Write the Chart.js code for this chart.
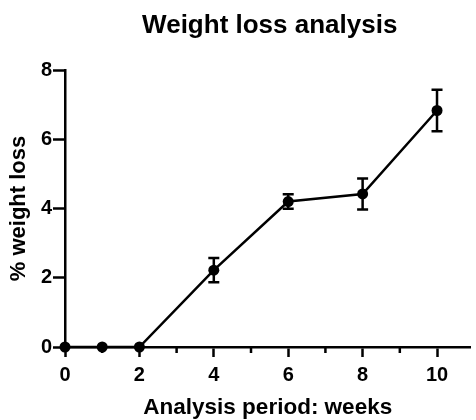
<!DOCTYPE html>
<html>
<head>
<meta charset="utf-8">
<script src="https://cdn.jsdelivr.net/npm/chart.js@4"></script>
<style>
  html, body { margin: 0; padding: 0; background: #fff; }
  #wrap { width: 476px; height: 420px; }
</style>
</head>
<body>
<div id="wrap"><canvas id="chart" width="476" height="420"></canvas></div>
<script>
// Data
const weeks = [0, 1, 2, 4, 6, 8, 10];
const meanLoss = [0, 0, 0, 2.22, 4.2, 4.42, 6.83];
const errLoss = [0, 0, 0, 0.35, 0.21, 0.45, 0.6];
const xTicks = [0, 2, 4, 6, 8, 10];
const xMinorTicks = [1, 3, 5, 7, 9];
const yTicks = [0, 2, 4, 6, 8];

const font = "'Liberation Sans', Arial, sans-serif";

// Vertical error bars with caps
const errorBars = {
  id: 'errorBars',
  afterDatasetsDraw(chart) {
    const { ctx, scales: { x, y } } = chart;
    ctx.save();
    ctx.strokeStyle = '#000';
    ctx.lineWidth = 2.5;
    weeks.forEach((w, i) => {
      if (!errLoss[i]) return;
      const px = x.getPixelForValue(w);
      const top = y.getPixelForValue(meanLoss[i] + errLoss[i]);
      const bot = y.getPixelForValue(meanLoss[i] - errLoss[i]);
      ctx.beginPath();
      ctx.moveTo(px, top); ctx.lineTo(px, bot);
      ctx.moveTo(px - 5.5, top); ctx.lineTo(px + 5.5, top);
      ctx.moveTo(px - 5.5, bot); ctx.lineTo(px + 5.5, bot);
      ctx.stroke();
    });
    ctx.restore();
  },
};

// Short minor ticks on the x axis at odd weeks
const minorTicks = {
  id: 'minorTicks',
  afterDraw(chart) {
    const { ctx, scales: { x } } = chart;
    ctx.save();
    ctx.strokeStyle = '#000';
    ctx.lineWidth = 2.5;
    xMinorTicks.forEach((v) => {
      const px = x.getPixelForValue(v);
      ctx.beginPath();
      ctx.moveTo(px, x.top);
      ctx.lineTo(px, x.top + 6);
      ctx.stroke();
    });
    ctx.restore();
  },
};

// Title centred over the plot area
const plotTitle = {
  id: 'plotTitle',
  afterDraw(chart) {
    const { ctx, chartArea } = chart;
    ctx.save();
    ctx.fillStyle = '#000';
    ctx.font = 'bold 26px ' + font;
    ctx.textAlign = 'center';
    ctx.textBaseline = 'alphabetic';
    ctx.fillText('Weight loss analysis', (chartArea.left + chartArea.right) / 2 + 2, 33);
    ctx.restore();
  },
};

new Chart(document.getElementById('chart'), {
  type: 'line',
  data: {
    datasets: [
      {
        data: weeks.map((w, i) => ({ x: w, y: meanLoss[i] })),
        borderColor: '#000',
        backgroundColor: '#000',
        borderWidth: 2.5,
        pointRadius: 5.5,
        pointBackgroundColor: '#000',
        pointBorderWidth: 0,
        tension: 0,
        clip: false,
      },
    ],
  },
  options: {
    responsive: false,
    animation: false,
    layout: { padding: { top: 70, right: 0, left: 0, bottom: 0 } },
    scales: {
      x: {
        type: 'linear',
        min: 0,
        max: 10.9,
        afterBuildTicks: (scale) => { scale.ticks = xTicks.map((v) => ({ value: v })); },
        afterFit: (scale) => { scale.height = 73; },
        grid: { drawOnChartArea: false, drawTicks: true, tickLength: 10, tickWidth: 2.5, tickColor: '#000' },
        border: { display: true, color: '#000', width: 2.5 },
        ticks: { color: '#000', padding: 6, font: { family: font, size: 20, weight: 'bold' } },
        title: {
          display: true,
          text: 'Analysis period: weeks',
          color: '#000',
          padding: { top: 0, bottom: -1 },
          font: { family: font, size: 22.5, weight: 'bold' },
        },
      },
      y: {
        type: 'linear',
        min: 0,
        max: 8,
        afterBuildTicks: (scale) => { scale.ticks = yTicks.map((v) => ({ value: v })); },
        afterFit: (scale) => { scale.width = 65; },
        grid: { drawOnChartArea: false, drawTicks: true, tickLength: 12, tickWidth: 2.5, tickColor: '#000' },
        border: { display: true, color: '#000', width: 2.5 },
        ticks: { color: '#000', padding: 1, font: { family: font, size: 20, weight: 'bold' } },
        title: {
          display: true,
          text: '% weight loss',
          color: '#000',
          padding: { top: 6, bottom: 0 },
          font: { family: font, size: 22, weight: 'bold' },
        },
      },
    },
    plugins: {
      legend: { display: false },
      tooltip: { enabled: false },
      title: { display: false },
    },
  },
  plugins: [errorBars, minorTicks, plotTitle],
});
</script>
</body>
</html>
